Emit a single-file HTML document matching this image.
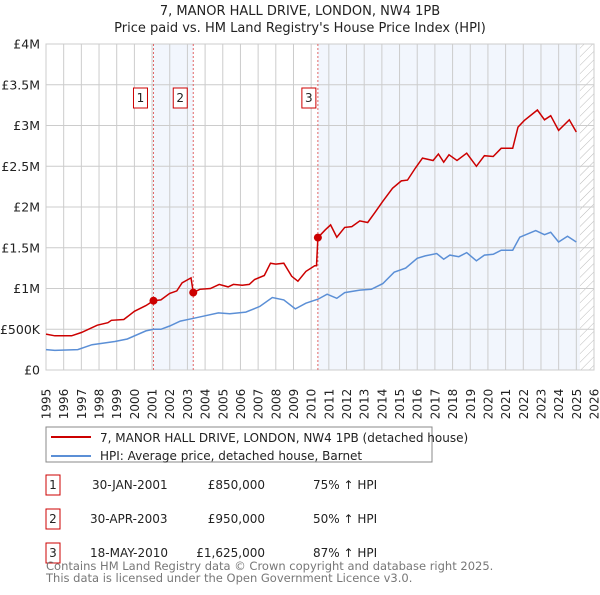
<!DOCTYPE html>
<html><head><meta charset="utf-8"><style>
body{margin:0;background:#fff;font-family:"Liberation Sans","DejaVu Sans",sans-serif}
svg text{font-family:"DejaVu Sans","Liberation Sans",sans-serif}
</style></head><body>
<svg id="c" width="600" height="590" xmlns="http://www.w3.org/2000/svg">
<defs><pattern id="hatch" width="6" height="6" patternUnits="userSpaceOnUse" patternTransform="rotate(45)"><line x1="0" y1="0" x2="0" y2="6" stroke="#bbb" stroke-width="1"/></pattern></defs>
<text x="300" y="15" text-anchor="middle" font-size="13" fill="#222">7, MANOR HALL DRIVE, LONDON, NW4 1PB</text>
<text x="300" y="32" text-anchor="middle" font-size="13" fill="#222">Price paid vs. HM Land Registry's House Price Index (HPI)</text>
<g id="plot"></g>
<rect x="46" y="427" width="386" height="35" fill="#fff" stroke="#888"/>
<line x1="51" y1="437" x2="91" y2="437" stroke="#cc0000" stroke-width="2"/>
<text x="100" y="442" font-size="12" fill="#222">7, MANOR HALL DRIVE, LONDON, NW4 1PB (detached house)</text>
<line x1="51" y1="456" x2="91" y2="456" stroke="#5b8fd6" stroke-width="2"/>
<text x="100" y="460" font-size="12" fill="#222">HPI: Average price, detached house, Barnet</text>
<g font-size="12" fill="#222">
<rect x="46" y="475" width="14" height="20" fill="none" stroke="#cc0000"/><text x="53" y="489" text-anchor="middle">1</text>
<text x="92" y="489">30-JAN-2001</text><text x="265" y="489" text-anchor="end">£850,000</text><text x="313" y="489">75% ↑ HPI</text>
<rect x="46" y="509" width="14" height="20" fill="none" stroke="#cc0000"/><text x="53" y="523" text-anchor="middle">2</text>
<text x="90" y="523">30-APR-2003</text><text x="265" y="523" text-anchor="end">£950,000</text><text x="313" y="523">50% ↑ HPI</text>
<rect x="46" y="543" width="14" height="20" fill="none" stroke="#cc0000"/><text x="53" y="557" text-anchor="middle">3</text>
<text x="90" y="557">18-MAY-2010</text><text x="265" y="557" text-anchor="end">£1,625,000</text><text x="313" y="557">87% ↑ HPI</text>
</g>
<text x="46" y="570" font-size="11.5" fill="#777">Contains HM Land Registry data © Crown copyright and database right 2025.</text>
<text x="46" y="582" font-size="11.5" fill="#777">This data is licensed under the Open Government Licence v3.0.</text>
</svg>
<script>
const redYears=[1995,1995.5,1996.45,1997,1997.9,1998.5,1998.7,1999.4,2000,2000.65,2001.08,2001.5,2002,2002.4,2002.7,2003.2,2003.33,2003.7,2004.3,2004.8,2005.3,2005.6,2006.1,2006.5,2006.8,2007.35,2007.7,2008,2008.45,2008.9,2009.25,2009.7,2010.2,2010.3,2010.38,2010.8,2011.1,2011.45,2011.9,2012.3,2012.75,2013.2,2013.6,2014.05,2014.6,2015.1,2015.45,2015.9,2016.3,2016.9,2017.2,2017.5,2017.8,2018.25,2018.8,2019.35,2019.8,2020.3,2020.75,2021.4,2021.7,2022.05,2022.8,2023.2,2023.55,2024,2024.6,2025];
const redValues=[0.44,0.42,0.42,0.46,0.55,0.58,0.61,0.62,0.72,0.79,0.85,0.86,0.94,0.97,1.07,1.13,0.95,0.99,1.0,1.05,1.02,1.05,1.04,1.05,1.11,1.16,1.31,1.30,1.31,1.15,1.09,1.21,1.28,1.28,1.625,1.72,1.78,1.63,1.75,1.76,1.83,1.81,1.93,2.07,2.23,2.32,2.33,2.48,2.60,2.57,2.65,2.55,2.64,2.57,2.66,2.50,2.63,2.62,2.72,2.72,2.98,3.06,3.19,3.07,3.12,2.94,3.07,2.92];
const hpiYears=[1995,1995.5,1996.8,1997.6,1998.9,1999.6,2000.65,2001.08,2001.5,2002,2002.6,2003.25,2003.9,2004.75,2005.4,2006.3,2007.1,2007.8,2008.45,2009.1,2009.7,2010.4,2010.9,2011.45,2011.9,2012.75,2013.4,2014.05,2014.7,2015.35,2016,2016.45,2017.1,2017.5,2017.85,2018.35,2018.8,2019.35,2019.8,2020.3,2020.75,2021.4,2021.8,2022.7,2023.2,2023.55,2024,2024.5,2025];
const hpiValues=[0.25,0.24,0.25,0.31,0.35,0.38,0.48,0.50,0.50,0.54,0.60,0.63,0.66,0.70,0.69,0.71,0.78,0.89,0.86,0.75,0.82,0.87,0.93,0.88,0.95,0.98,0.99,1.06,1.20,1.25,1.37,1.40,1.43,1.36,1.41,1.39,1.44,1.34,1.41,1.42,1.47,1.47,1.63,1.71,1.66,1.69,1.57,1.64,1.57];
const saleYears=[2001.08,2003.33,2010.38];
const saleValues=[0.85,0.95,1.625];
const saleLabels=["1","2","3"];
const yTicks=[0,0.5,1,1.5,2,2.5,3,3.5,4];
const yTickLabels=["£0","£500K","£1M","£1.5M","£2M","£2.5M","£3M","£3.5M","£4M"];
const xTicks=[1995,1996,1997,1998,1999,2000,2001,2002,2003,2004,2005,2006,2007,2008,2009,2010,2011,2012,2013,2014,2015,2016,2017,2018,2019,2020,2021,2022,2023,2024,2025,2026];
const X0=46,X1=594,Y0=370,Y1=44;
const xs=y=>X0+(y-1995)/(2026-1995)*(X1-X0);
const ys=v=>Y0-v/4*(Y0-Y1);
const NS="http://www.w3.org/2000/svg";
const g=document.getElementById('plot');
function mk(t,a){const e=document.createElementNS(NS,t);for(const k in a)e.setAttribute(k,a[k]);g.appendChild(e);return e;}
let e;
e=mk('rect',{x:xs(saleYears[0]),y:Y1,width:xs(saleYears[1])-xs(saleYears[0]),height:Y0-Y1,fill:'#f2f6fd'});


e=mk('rect',{x:xs(saleYears[2]),y:Y1,width:xs(2025.2)-xs(saleYears[2]),height:Y0-Y1,fill:'#f2f6fd'});


e=mk('rect',{x:xs(2025.2),y:Y1,width:X1-xs(2025.2),height:Y0-Y1,fill:'url(#hatch)'});


xTicks.forEach(t=>{
 e=mk('line',{x1:xs(t),x2:xs(t),y1:Y1,y2:Y0,stroke:'#ccc','stroke-width':1});
 
 
 e=mk('text',{x:0,y:0,transform:`translate(${xs(t)+4.5},${Y0+34}) rotate(-90)`,'text-anchor':'middle','font-size':12,fill:'#222'});
 e.textContent=t;
 
 
});
yTicks.forEach((t,i)=>{
 e=mk('line',{x1:X0,x2:X1,y1:ys(t),y2:ys(t),stroke:'#ccc','stroke-width':1});
 
 
 e=mk('text',{x:X0-6,y:ys(t)+4.5,'text-anchor':'end','font-size':12.5,fill:'#222'});
 e.textContent=yTickLabels[i];
 
 
});
e=mk('rect',{x:X0,y:Y1,width:X1-X0,height:Y0-Y1,fill:'none',stroke:'#ccc'});


saleYears.forEach((s,i)=>{
 e=mk('line',{x1:xs(s),x2:xs(s),y1:Y1,y2:Y0,stroke:'#e06666','stroke-width':1,'stroke-dasharray':'2,2'});
 
 
 const bx=xs(s)-(i==2?10:14);
 e=mk('rect',{x:bx-6,y:88,width:14,height:20,fill:'#fff',stroke:'#cc0000'});
 
 
 e=mk('text',{x:bx+1,y:102,'text-anchor':'middle','font-size':12,fill:'#222'});
 e.textContent=saleLabels[i];
 
 
});
e=mk('path',{d:hpiYears.map((y,i)=>(i?'L':'M')+xs(y).toFixed(1)+','+ys(hpiValues[i]).toFixed(1)).join(''),fill:'none',stroke:'#5b8fd6','stroke-width':1.5});


e=mk('path',{d:redYears.map((y,i)=>(i?'L':'M')+xs(y).toFixed(1)+','+ys(redValues[i]).toFixed(1)).join(''),fill:'none',stroke:'#cc0000','stroke-width':1.5});


saleYears.forEach((s,i)=>{
 e=mk('circle',{cx:xs(s),cy:ys(saleValues[i]),r:4,fill:'#cc0000'});
 
 
});
</script>
</body></html>
